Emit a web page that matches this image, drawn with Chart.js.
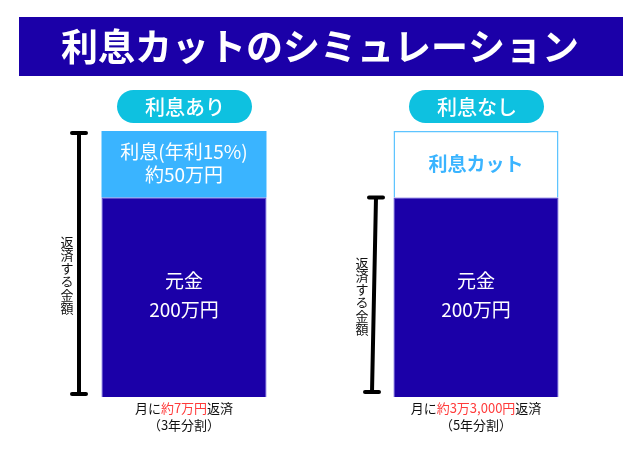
<!DOCTYPE html>
<html>
<head>
<meta charset="utf-8">
<script src="https://cdn.jsdelivr.net/npm/chart.js@4/dist/chart.umd.min.js"></script>
<style>
  html, body { margin: 0; padding: 0; background: #ffffff; }
  #wrap { width: 640px; height: 450px; }
</style>
</head>
<body>
<div id="wrap"><canvas id="chart" width="640" height="450"></canvas></div>
<script>
// data (万円)
const categories = ['利息あり', '利息なし'];
const principal = [200, 200];
const interest = [50, 50];
const interestLabels = [['利息(年利15%)', '約50万円'], ['利息カット']];
const monthlyPay = [['月に', '約7万円', '返済'], ['月に', '約3万3,000円', '返済']];
const terms = ['（3年分割）', '（5年分割）'];
const title = '利息カットのシミュレーション';
const sideLabel = '返済する金額';
// the picture cuts the value axis: visible range
const axisMin = 50;
const axisMax = 250;

const NAVY = '#1b00a8';
const SKY = '#3ab4ff';
const CYAN = '#0ec1e0';
const FONT = '"Noto Sans CJK JP", "Noto Sans", sans-serif';

function roundRect(ctx, x, y, w, h, r) {
    ctx.beginPath();
    ctx.moveTo(x + r, y);
    ctx.lineTo(x + w - r, y);
    ctx.arc(x + w - r, y + r, r, -Math.PI / 2, 0);
    ctx.lineTo(x + w, y + h - r);
    ctx.arc(x + w - r, y + h - r, r, 0, Math.PI / 2);
    ctx.lineTo(x + r, y + h);
    ctx.arc(x + r, y + h - r, r, Math.PI / 2, Math.PI);
    ctx.lineTo(x, y + r);
    ctx.arc(x + r, y + r, r, Math.PI, Math.PI * 1.5);
    ctx.closePath();
}

// dimension bar with caps
function dimLine(ctx, x1, y1, x2, y2) {
    ctx.save();
    ctx.strokeStyle = '#000';
    ctx.lineWidth = 4;
    ctx.lineCap = 'round';
    ctx.beginPath();
    ctx.moveTo(x1, y1); ctx.lineTo(x2, y2);
    ctx.moveTo(x1 - 7, y1); ctx.lineTo(x1 + 7, y1);
    ctx.moveTo(x2 - 7, y2); ctx.lineTo(x2 + 7, y2);
    ctx.stroke();
    ctx.restore();
}

function verticalText(ctx, text, x, yTop, step) {
    ctx.save();
    ctx.fillStyle = '#111';
    ctx.font = '400 13px ' + FONT;
    ctx.textAlign = 'center';
    ctx.textBaseline = 'middle';
    [...text].forEach((ch, i) => ctx.fillText(ch, x, yTop + step / 2 + i * step));
    ctx.restore();
}

const decorations = {
    id: 'decorations',
    afterDatasetsDraw(chart) {
        const ctx = chart.ctx;
        const y = chart.scales.y;
        const area = chart.chartArea;
        const base = chart.getDatasetMeta(0).data;
        const top = chart.getDatasetMeta(1).data;

        // title banner
        ctx.save();
        ctx.fillStyle = NAVY;
        ctx.fillRect(19, 17, 604, 59);
        ctx.fillStyle = '#fff';
        ctx.font = '700 37px ' + FONT;
        ctx.textAlign = 'center';
        ctx.textBaseline = 'middle';
        ctx.fillText(title, 320, 47);

        categories.forEach((cat, i) => {
            const cx = base[i].x;
            // pill
            ctx.fillStyle = CYAN;
            roundRect(ctx, cx - 67, 90, 135, 33, 16.5);
            ctx.fill();
            ctx.fillStyle = '#fff';
            ctx.font = '500 20px ' + FONT;
            ctx.fillText(cat, cx + 1, 107);

            // labels inside bars
            const topMid = (top[i].y + top[i].base) / 2;
            if (i === 0) {
                ctx.fillStyle = '#fff';
                ctx.font = '400 19px ' + FONT;
                ctx.fillText(interestLabels[i][0], cx, topMid - 12);
                ctx.fillText(interestLabels[i][1], cx, topMid + 11);
            } else {
                ctx.fillStyle = SKY;
                ctx.font = '700 19px ' + FONT;
                ctx.fillText(interestLabels[i][0], cx, topMid);
            }
            const baseMid = (base[i].y + area.bottom) / 2;
            ctx.fillStyle = '#fff';
            ctx.font = '400 19px ' + FONT;
            ctx.fillText('元金', cx, baseMid - 16);
            ctx.fillText(principal[i] + '万円', cx, baseMid + 13);

            // monthly payment under bar
            ctx.font = '400 13px ' + FONT;
            const parts = monthlyPay[i];
            const widths = parts.map(p => ctx.measureText(p).width);
            let x = cx - widths.reduce((a, b) => a + b, 0) / 2;
            ctx.textAlign = 'left';
            parts.forEach((p, k) => {
                ctx.fillStyle = k === 1 ? '#ff3b3b' : '#111';
                ctx.fillText(p, x, 408);
                x += widths[k];
            });
            ctx.textAlign = 'center';
            ctx.fillStyle = '#111';
            ctx.fillText(terms[i], cx, 425);
        });
        ctx.restore();

        // dimension lines
        const y0 = y.getPixelForValue(axisMin);
        dimLine(ctx, 79, y.getPixelForValue(principal[0] + interest[0]) + 2, 79, y0 - 3);
        dimLine(ctx, 376, y.getPixelForValue(principal[1]), 372, y0 - 5);
        verticalText(ctx, sideLabel, 67, 235, 13.3);
        verticalText(ctx, sideLabel, 362, 256, 13.3);
    }
};

new Chart(document.getElementById('chart'), {
    type: 'bar',
    data: {
        labels: categories,
        datasets: [
            {
                label: '元金',
                data: principal,
                backgroundColor: NAVY,
                borderColor: '#4a3ad6',
                borderWidth: 1
            },
            {
                label: '利息',
                data: interest,
                backgroundColor: [SKY, '#ffffff'],
                borderColor: ['#7fd0ff', '#5ec4ff'],
                borderWidth: [0, 1.5]
            }
        ]
    },
    options: {
        responsive: false,
        animation: false,
        devicePixelRatio: 1,
        layout: { padding: { left: 38, right: 18, top: 131, bottom: 53 } },
        datasets: { bar: { barPercentage: 1, categoryPercentage: 0.565 } },
        scales: {
            x: { stacked: true, display: false },
            y: { stacked: true, display: false, min: axisMin, max: axisMax }
        },
        plugins: {
            legend: { display: false },
            tooltip: { enabled: false }
        }
    },
    plugins: [decorations]
});
</script>
</body>
</html>
